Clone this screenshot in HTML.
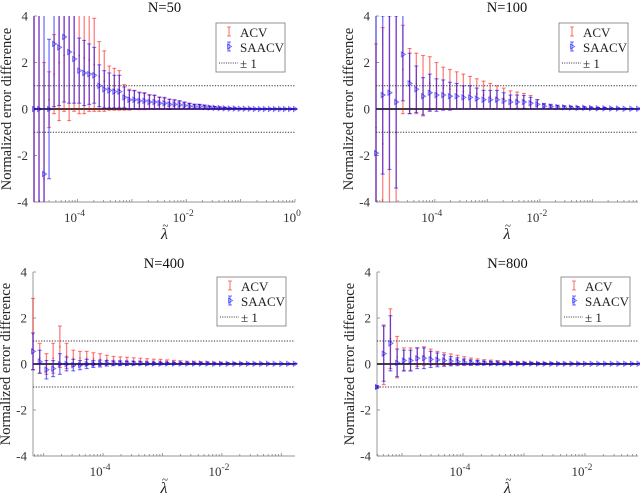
<!DOCTYPE html>
<html><head><meta charset="utf-8">
<style>
html,body{margin:0;padding:0;background:#fff;}
svg{display:block;}
svg text{font-family:"Liberation Serif","Times New Roman",serif;}
</style></head>
<body>
<svg id="fig" width="640" height="497" viewBox="0 0 640 497" font-family="Liberation Serif, serif"></svg>
<script>
// ---------- data ----------
const panelTitles = ["N=50","N=100","N=400","N=800"];
const yTickLabels = ["4","2","0","-2","-4"];
const yTickValues = [4,2,0,-2,-4];
const gridStart = [-4.8,-5.12,-5.18,-5.41];
const gridStep = [0.0923,0.128,0.113,0.11];

const acvMean50 = [0,0,-3,0.4,1.5,2,2.3,2.5,2.4,2.3,2.2,2.1,1.9,1.4,1.2,0.9,0.85,0.8,0.5,0.4,0.38,0.35,0.32,0.3,0.28,0.25,0.22,0.2,0.18,0.15,0.14,0.12,0.1,0.09,0.08,0.06,0.05,0.04,0.03,0.02,0.02,0.01,0.01,0.01,0,0,0,0,0,0,0,0,0];
const acvErr50 = [10,10,5,1.2,1.7,2.5,2.4,3,2.5,2.5,2.4,2.2,2,1.5,1.3,0.95,0.9,0.85,0.55,0.45,0.4,0.38,0.35,0.32,0.3,0.27,0.24,0.22,0.2,0.17,0.15,0.13,0.11,0.1,0.09,0.07,0.06,0.05,0.04,0.03,0.03,0.02,0.02,0.02,0.01,0.01,0.01,0.01,0.01,0.01,0.01,0.01,0.01];
const saMean50 = [0,0,-2.8,0,2.8,2.65,3.1,2.45,2.15,1.65,1.55,1.5,1.45,1.0,0.85,0.8,0.75,0.75,0.5,0.4,0.4,0.35,0.35,0.3,0.3,0.25,0.25,0.2,0.2,0.18,0.15,0.12,0.1,0.1,0.08,0.06,0.05,0.04,0.03,0.02,0.02,0.01,0.01,0.01,0,0,0,0,0,0,0,0,0];
const saErr50 = [10,10,8,3,2.7,2.5,2.8,2.2,1.9,1.4,1.4,1.3,1.2,0.9,0.8,0.75,0.7,0.7,0.45,0.4,0.4,0.35,0.35,0.3,0.3,0.25,0.25,0.22,0.2,0.18,0.15,0.12,0.1,0.1,0.08,0.06,0.05,0.04,0.03,0.02,0.02,0.01,0.01,0.01,0.01,0.01,0.01,0.01,0.01,0.01,0.01,0.01,0.01];

const acvMean100 = [-0.8,-1.5,-1,-1,1.7,1.2,1.1,1.0,1.1,1.0,0.9,0.85,0.8,0.75,0.7,0.65,0.6,0.55,0.5,0.45,0.4,0.38,0.35,0.3,0.2,0.1,0.08,0.07,0.06,0.05,0.05,0.04,0.04,0.03,0.03,0.02,0.02,0.01,0.01,0.01];
const acvErr100 = [3.6,5,6,6,1.9,1.4,1.3,1.3,1.15,1.0,0.9,0.85,0.8,0.75,0.7,0.65,0.6,0.55,0.5,0.45,0.38,0.35,0.32,0.28,0.2,0.1,0.08,0.07,0.06,0.05,0.05,0.04,0.04,0.03,0.03,0.02,0.02,0.01,0.01,0.01];
const saMean100 = [-1.9,0.6,0.7,0.3,2.35,1.1,0.85,0.55,0.7,0.6,0.6,0.55,0.55,0.5,0.5,0.45,0.4,0.4,0.4,0.35,0.3,0.3,0.3,0.25,0.2,0.12,0.1,0.08,0.07,0.06,0.05,0.05,0.04,0.03,0.03,0.02,0.02,0.01,0.01,0.01];
const saErr100 = [6,3.4,3.3,3.7,2.0,1.3,1.0,0.8,0.8,0.7,0.65,0.6,0.55,0.5,0.5,0.45,0.4,0.4,0.4,0.35,0.3,0.3,0.28,0.25,0.2,0.12,0.1,0.08,0.07,0.06,0.05,0.05,0.04,0.03,0.03,0.02,0.02,0.01,0.01,0.01];

const acvMean400 = [1.3,0.25,0,0.25,0.75,0.35,0.25,0.25,0.25,0.22,0.2,0.18,0.16,0.15,0.14,0.13,0.12,0.11,0.1,0.1,0.09,0.08,0.07,0.06,0.06,0.05,0.05,0.04,0.04,0.03,0.03,0.03,0.02,0.02,0.02,0.02,0.01,0.01,0.01,0.01];
const acvErr400 = [1.55,0.65,0.45,0.65,0.9,0.55,0.35,0.3,0.3,0.27,0.25,0.2,0.17,0.16,0.15,0.14,0.13,0.12,0.11,0.1,0.09,0.08,0.07,0.06,0.06,0.05,0.05,0.04,0.04,0.03,0.03,0.03,0.02,0.02,0.02,0.02,0.01,0.01,0.01,0.01];
const saMean400 = [0.55,0.1,-0.25,-0.2,0,0,-0.05,-0.05,0,0,0.02,0.03,0.03,0.03,0.03,0.03,0.03,0.02,0.02,0.02,0.02,0.02,0.02,0.02,0.02,0.02,0.02,0.01,0.01,0.01,0.01,0.01,0.01,0.01,0.01,0.01,0.01,0.01,0.01,0.01];
const saErr400 = [0.8,0.5,0.4,0.35,0.45,0.3,0.25,0.2,0.2,0.15,0.15,0.12,0.1,0.1,0.09,0.08,0.07,0.06,0.05,0.05,0.04,0.04,0.03,0.03,0.03,0.03,0.02,0.02,0.02,0.02,0.02,0.01,0.01,0.01,0.01,0.01,0.01,0.01,0.01,0.01];

const acvMean800 = [-1.0,0.4,1.1,0.3,0.2,0.2,0.3,0.35,0.3,0.25,0.22,0.2,0.18,0.15,0.12,0.1,0.09,0.08,0.07,0.06,0.05,0.05,0.04,0.04,0.03,0.03,0.03,0.02,0.02,0.02,0.02,0.01,0.01,0.01,0.01,0.01,0.01,0.01,0.01,0.01];
const acvErr800 = [0.05,1.3,1.3,0.9,0.5,0.5,0.4,0.4,0.35,0.3,0.27,0.24,0.2,0.17,0.14,0.12,0.1,0.09,0.08,0.07,0.06,0.05,0.05,0.04,0.04,0.03,0.03,0.03,0.02,0.02,0.02,0.02,0.01,0.01,0.01,0.01,0.01,0.01,0.01,0.01];
const saMean800 = [-1.0,0.45,0.9,0.05,0.15,0.15,0.25,0.25,0.2,0.18,0.15,0.12,0.1,0.08,0.06,0.05,0.04,0.03,0.03,0.02,0.02,0.02,0.02,0.02,0.01,0.01,0.01,0.01,0.01,0.01,0.01,0.01,0.01,0.01,0.01,0.01,0.01,0.01,0.01,0.01];
const saErr800 = [0.05,1.2,1.2,0.6,0.45,0.45,0.45,0.45,0.35,0.3,0.25,0.2,0.17,0.14,0.12,0.1,0.08,0.07,0.06,0.05,0.05,0.04,0.04,0.03,0.03,0.03,0.02,0.02,0.02,0.02,0.02,0.01,0.01,0.01,0.01,0.01,0.01,0.01,0.01,0.01];

const acvMeans = [acvMean50,acvMean100,acvMean400,acvMean800];
const acvErrs = [acvErr50,acvErr100,acvErr400,acvErr800];
const saMeans = [saMean50,saMean100,saMean400,saMean800];
const saErrs = [saErr50,saErr100,saErr400,saErr800];
const xTickExps = [[-4,-2,0],[-4,-2],[-4,-2],[-4,-2]];

// ---------- layout ----------
const layout = [
  {l:34,r:295,t:16,b:202,lmin:-4.8,lmax:0,leg:[216,23]},
  {l:376,r:638,t:16,b:202,lmin:-5.12,lmax:-0.13,leg:[559,23]},
  {l:33,r:295,t:272,b:456,lmin:-5.18,lmax:-0.77,leg:[217,277]},
  {l:377,r:638,t:272,b:456,lmin:-5.41,lmax:-1.13,leg:[561,277]}
];
const NS="http://www.w3.org/2000/svg";
const svg=document.getElementById('fig');
const FF='"Liberation Serif", serif';
function mk(tag,attrs,parent){const e=document.createElementNS(NS,tag);for(const k in attrs)e.setAttribute(k,attrs[k]);if(tag==='text')e.style.fontFamily=FF;(parent||svg).appendChild(e);return e;}
const RED="rgba(255,0,0,0.5)", BLUE="rgba(0,0,255,0.55)";

layout.forEach((L,p)=>{
  const g=mk('g',{});
  
  
  const xs=v=>L.l+(v-L.lmin)/(L.lmax-L.lmin)*(L.r-L.l);
  const ys=v=>L.t+(4-v)/8*(L.b-L.t);
  const cp=mk('clipPath',{id:'clip'+p},g);
  mk('rect',{x:L.l-3,y:L.t,width:L.r-L.l+6,height:L.b-L.t},cp);
  const title=mk('text',{x:(L.l+L.r)/2,y:L.t-4,'text-anchor':'middle','font-size':'14.5',fill:'#111'},g);
  title.textContent=panelTitles[p];
  
  
  mk('line',{x1:L.l,y1:L.t,x2:L.l,y2:L.b,stroke:'#999','stroke-width':1},g);
  mk('line',{x1:L.l,y1:L.b,x2:L.r,y2:L.b,stroke:'#aaa','stroke-width':1.2},g);
  yTickValues.forEach((v,i)=>{
    mk('line',{x1:L.l,y1:ys(v),x2:L.l+3,y2:ys(v),stroke:'#999'},g);
    const t=mk('text',{x:L.l-6,y:ys(v)+4.5,'text-anchor':'end','font-size':'13',fill:'#333'},g);
    t.textContent=yTickLabels[i];
    
    
  });
  for(let d=Math.floor(L.lmin);d<=Math.ceil(L.lmax);d++){
    for(let m=1;m<10;m++){const lv=d+Math.log10(m); if(lv<L.lmin||lv>L.lmax)continue;
      mk('line',{x1:xs(lv),y1:L.b,x2:xs(lv),y2:L.b-(m===1?3:2),stroke:'#888','stroke-width':0.8},g);}
  }
  xTickExps[p].forEach(e=>{
    const t=mk('text',{x:xs(e)-3,y:L.b+20,'text-anchor':'middle','font-size':'13',fill:'#333'},g);
    t.textContent='10';
    const s=mk('tspan',{dy:'-6','font-size':'9.5'},t); s.textContent=String(e);
    
    
  });
  const yl=mk('text',{x:0,y:0,transform:`translate(${L.l-23},${(L.t+L.b)/2}) rotate(-90)`,'text-anchor':'middle','font-size':'14.5',fill:'#222'},g);
  yl.textContent='Normalized error difference';
  
  
  const cx=(L.l+L.r)/2;
  const xl=mk('text',{x:cx,y:L.b+37,'text-anchor':'middle','font-size':'16','font-style':'italic',fill:'#222'},g);
  xl.textContent='λ';
  
  
  const tl=mk('text',{x:cx+1,y:L.b+27,'text-anchor':'middle','font-size':'11',fill:'#222'},g);
  tl.textContent='~';
  
  
  mk('line',{x1:L.l,y1:ys(1),x2:L.r,y2:ys(1),stroke:'#333','stroke-dasharray':'1.2,1.5','stroke-width':0.9},g);
  mk('line',{x1:L.l,y1:ys(-1),x2:L.r,y2:ys(-1),stroke:'#333','stroke-dasharray':'1.2,1.5','stroke-width':0.9},g);
  const zl=mk('line',{x1:L.l,y1:ys(0),x2:L.r,y2:ys(0),stroke:'#000','stroke-width':1.5},g);
  
  
  const dg=mk('g',{'clip-path':`url(#clip${p})`},g);
  function series(means,errs,color,tri,name){
    means.forEach((m,i)=>{
      const lv=gridStart[p]+i*gridStep[p];
      const x=xs(lv), e=errs[i];
      const bg=mk('g',{},dg);
      
      
      mk('line',{x1:x,y1:ys(m+e),x2:x,y2:ys(m-e),stroke:color,'stroke-width':1.3},bg);
      mk('line',{x1:x-2,y1:ys(m+e),x2:x+2,y2:ys(m+e),stroke:color,'stroke-width':1.1},bg);
      mk('line',{x1:x-2,y1:ys(m-e),x2:x+2,y2:ys(m-e),stroke:color,'stroke-width':1.1},bg);
      if(tri){const y=ys(m);mk('path',{d:`M${x-1.5},${y-2.5}L${x+2.5},${y}L${x-1.5},${y+2.5}Z`,fill:'none',stroke:color,'stroke-width':1},bg);}
      else mk('circle',{cx:x,cy:ys(m),r:0.9,fill:color},bg);
    });
  }
  series(acvMeans[p],acvErrs[p],RED,false,'acv');
  series(saMeans[p],saErrs[p],BLUE,true,'saacv');
  const [lx,ly]=L.leg;
  const lg=mk('g',{},g);
  
  
  mk('rect',{x:lx,y:ly,width:69,height:49,fill:'#fff',stroke:'#888','stroke-width':0.9},lg);
  const e1x=lx+13;
  mk('line',{x1:e1x,y1:ly+4,x2:e1x,y2:ly+13,stroke:RED,'stroke-width':1.2},lg);
  mk('line',{x1:e1x-2,y1:ly+4,x2:e1x+2,y2:ly+4,stroke:RED},lg);
  mk('line',{x1:e1x-2,y1:ly+13,x2:e1x+2,y2:ly+13,stroke:RED},lg);
  mk('line',{x1:e1x,y1:ly+19,x2:e1x,y2:ly+28,stroke:BLUE,'stroke-width':1.2},lg);
  mk('line',{x1:e1x-2,y1:ly+19,x2:e1x+2,y2:ly+19,stroke:BLUE},lg);
  mk('line',{x1:e1x-2,y1:ly+28,x2:e1x+2,y2:ly+28,stroke:BLUE},lg);
  mk('path',{d:`M${e1x-1.5},${ly+21}L${e1x+2.5},${ly+23.5}L${e1x-1.5},${ly+26}Z`,fill:'none',stroke:BLUE},lg);
  mk('line',{x1:lx+3,y1:ly+40,x2:lx+22,y2:ly+40,stroke:'#333','stroke-dasharray':'1,1.3'},lg);
  [['ACV',ly+14],['SAACV',ly+29],['± 1',ly+45]].forEach(([s,y])=>{
    const t=mk('text',{x:lx+24,y:y,'font-size':'13',fill:'#222'},lg);t.textContent=s;
    
    
  });
});
</script>
</body></html>
